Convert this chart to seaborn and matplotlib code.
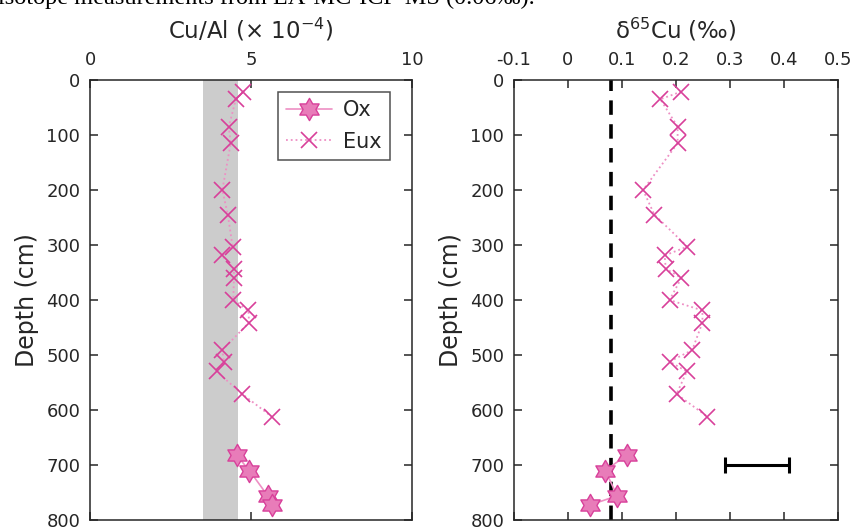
import numpy as np
import matplotlib
matplotlib.use("Agg")
import matplotlib.pyplot as plt
from matplotlib.path import Path
import seaborn as sns

# ---- data ----
eux_depth = [21, 35, 85, 115, 200, 245, 303, 319, 343, 360, 400, 419, 441, 491, 512, 530, 571, 612]
eux_cual = [4.76, 4.53, 4.31, 4.37, 4.11, 4.28, 4.43, 4.09, 4.47, 4.47, 4.45, 4.92, 4.94, 4.11, 4.16, 3.93, 4.73, 5.64]
eux_d65 = [0.21, 0.171, 0.203, 0.203, 0.139, 0.160, 0.221, 0.179, 0.181, 0.21, 0.188, 0.249, 0.249, 0.230, 0.188, 0.220, 0.201, 0.258]

ox_depth = [682, 710, 756, 773]
ox_cual = [4.55, 4.95, 5.52, 5.64]
ox_d65 = [0.109, 0.069, 0.091, 0.040]

crust_band = [3.5, 4.6]      # grey band, Cu/Al
d65_ref = 0.08               # dashed reference line
err_center = 0.35
err_half = 0.06              # 2SD, LA-MC-ICP-MS
err_depth = 700

depth_ticks = [0, 100, 200, 300, 400, 500, 600, 700, 800]
cual_ticks = [0, 5, 10]
d65_ticks = [-0.1, 0, 0.1, 0.2, 0.3, 0.4, 0.5]
d65_labels = ['-0.1', '0', '0.1', '0.2', '0.3', '0.4', '0.5']

sns.set_style("ticks")
plt.rcParams['font.family'] = ['DejaVu Sans']
plt.rcParams['mathtext.default'] = 'regular'
plt.rcParams['axes.unicode_minus'] = False

edge = '#d8409a'
face = '#e87cb9'
line_c = '#ee8fc4'
ink = '#262626'

# six pointed star (hexagram) marker
ang = np.deg2rad(90 + 30 * np.arange(12))
rad = np.where(np.arange(12) % 2 == 0, 1.0, 1 / np.sqrt(3))
verts = np.column_stack([rad * np.cos(ang), rad * np.sin(ang)])
verts = np.vstack([verts, verts[:1]])
hexagram = Path(verts, closed=True)

fig = plt.figure(figsize=(8.54, 5.27), dpi=100)
ax1 = fig.add_axes([90/854, 7/527, 322/854, 440/527])
ax2 = fig.add_axes([514/854, 7/527, 324/854, 440/527])

fig.text(-0.002, 1 - 4/527, 'isotope measurements from LA-MC-ICP-MS (0.06‰).',
         family='Liberation Serif', fontsize=17.5, ha='left', va='baseline', color='black')


def style_axis(ax, xlim, xticks, xlabels, title):
    ax.set_ylim(800, 0)
    ax.set_xlim(*xlim)
    ax.set_yticks(depth_ticks)
    ax.set_xticks(xticks)
    ax.set_xticklabels(xlabels)
    ax.xaxis.tick_top()
    ax.tick_params(axis='both', direction='in', length=6, width=1.1, labelsize=13,
                   top=True, bottom=True, left=True, right=True,
                   labeltop=True, labelbottom=False, colors=ink)
    ax.tick_params(axis='x', pad=8)
    ax.tick_params(axis='y', pad=7)
    for s in ax.spines.values():
        s.set_linewidth(1.1)
        s.set_color(ink)
    ax.set_ylabel('Depth (cm)', fontsize=17, labelpad=5, color=ink)
    ax.set_xlabel('')
    ax.set_title(title, fontsize=16.5, y=1.0, pad=30, color=ink)


# ---- Cu/Al panel ----
ax1.axvspan(crust_band[0], crust_band[1], color='#cccccc', lw=0, zorder=0)
sns.lineplot(x=ox_cual, y=ox_depth, sort=False, estimator=None, ax=ax1,
             color=line_c, lw=1.2, marker=hexagram, markersize=16,
             markerfacecolor=face, markeredgecolor=edge, markeredgewidth=1.0, label='Ox')
sns.lineplot(x=eux_cual, y=eux_depth, sort=False, estimator=None, ax=ax1,
             color=line_c, lw=1.3, linestyle=':', marker='x', markersize=11,
             markeredgecolor=edge, markeredgewidth=1.2, label='Eux')
style_axis(ax1, (0, 10), cual_ticks, [str(t) for t in cual_ticks], 'Cu/Al (× 10$^{-4}$)')
leg = ax1.legend(loc='upper right', fontsize=15, frameon=True, fancybox=False,
                 edgecolor=ink, borderpad=0.4, handlelength=2.2,
                 handletextpad=0.55, labelspacing=0.55, borderaxespad=0,
                 bbox_to_anchor=(0.932, 0.973))
leg.get_frame().set_linewidth(1.1)

# ---- d65Cu panel ----
ax2.axvline(d65_ref, color='black', lw=2.6, ls=(0, (4, 2.6)), zorder=1)
sns.lineplot(x=ox_d65, y=ox_depth, sort=False, estimator=None, ax=ax2,
             color=line_c, lw=1.2, marker=hexagram, markersize=16,
             markerfacecolor=face, markeredgecolor=edge, markeredgewidth=1.0, legend=False)
sns.lineplot(x=eux_d65, y=eux_depth, sort=False, estimator=None, ax=ax2,
             color=line_c, lw=1.3, linestyle=':', marker='x', markersize=11,
             markeredgecolor=edge, markeredgewidth=1.2, legend=False)
ax2.errorbar(err_center, err_depth, xerr=err_half, fmt='none', ecolor='black',
             elinewidth=2.2, capsize=6, capthick=2.2)
style_axis(ax2, (-0.1, 0.5), d65_ticks, d65_labels, 'δ$^{65}$Cu (‰)')

fig.savefig('out.png', dpi=100)
